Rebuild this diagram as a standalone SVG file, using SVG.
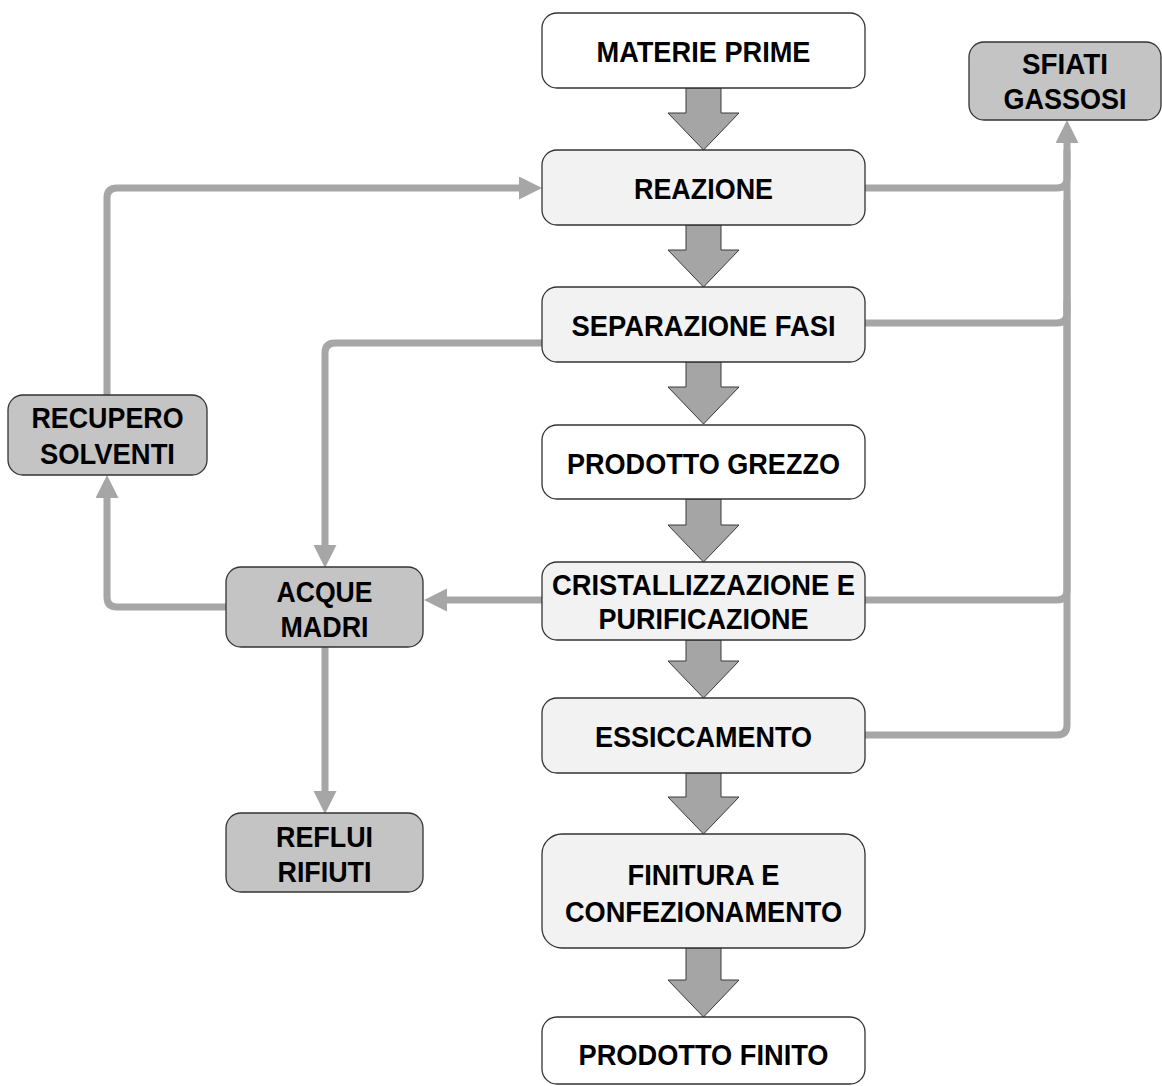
<svg xmlns="http://www.w3.org/2000/svg" width="1162" height="1086" viewBox="0 0 1162 1086">
  <style>
    .box { stroke: #333333; stroke-width: 1.3; }
    .main { fill: #ffffff; }
    .step { fill: #f2f2f2; }
    .side { fill: #c4c4c4; }
    .lbl { font-family: "Liberation Sans", Arial, sans-serif; font-weight: bold; font-size: 29px; fill: #000000; text-anchor: middle; }
    .flow { fill: #a5a5a5; stroke: #3a3a3a; stroke-width: 1; stroke-linejoin: miter; }
    .link { fill: none; stroke: #a6a6a6; stroke-width: 7; }
  </style>
  <defs>
    <marker id="head" markerUnits="userSpaceOnUse" markerWidth="24" markerHeight="24" refX="0" refY="11.5" orient="auto">
      <path d="M0,0 L23,11.5 L0,23 z" fill="#a6a6a6"/>
    </marker>
  </defs>

  <rect width="1162" height="1086" fill="#ffffff"/>

  <!-- thin connectors: recycle, waste and vent lines -->
  <g id="connectors">
    <path class="link" d="M107,395 V198 Q107,188 117,188 H519" marker-end="url(#head)"/>
    <path class="link" d="M542,343 H335 Q325,343 325,353 V545" marker-end="url(#head)"/>
    <path class="link" d="M542,600 H447" marker-end="url(#head)"/>
    <path class="link" d="M226,607 H117 Q107,607 107,597 V498" marker-end="url(#head)"/>
    <path class="link" d="M325,647 V791" marker-end="url(#head)"/>
    <path class="link" d="M865,735 H1057 Q1067,735 1067,725 V143" marker-end="url(#head)"/>
    <path class="link" d="M865,600 H1057 Q1067,600 1067,590 V300"/>
    <path class="link" d="M865,323 H1057 Q1067,323 1067,313 V200"/>
    <path class="link" d="M865,188 H1057 Q1067,188 1067,178 V150"/>
  </g>

  <!-- block arrows of the main process line -->
  <g id="flow-arrows">
    <path class="flow" d="M686,88 H721 V113 H739 L703.5,150 L668,113 H686 Z"/>
    <path class="flow" d="M686,225 H721 V250 H739 L703.5,287 L668,250 H686 Z"/>
    <path class="flow" d="M686,362 H721 V387 H739 L703.5,424 L668,387 H686 Z"/>
    <path class="flow" d="M686,499 H721 V525 H739 L703.5,562 L668,525 H686 Z"/>
    <path class="flow" d="M686,640 H721 V661 H739 L703.5,698 L668,661 H686 Z"/>
    <path class="flow" d="M686,773 H721 V797 H739 L703.5,834 L668,797 H686 Z"/>
    <path class="flow" d="M686,948 H721 V980 H739 L703.5,1017 L668,980 H686 Z"/>
  </g>

  <g id="materie-prime">
    <rect class="box main" x="542" y="13" width="323" height="75" rx="15"/>
    <text class="lbl" x="703.5" y="62" textLength="214" lengthAdjust="spacingAndGlyphs">MATERIE PRIME</text>
  </g>
  <g id="reazione">
    <rect class="box step" x="542" y="150" width="323" height="75" rx="15"/>
    <text class="lbl" x="703.5" y="199" textLength="139" lengthAdjust="spacingAndGlyphs">REAZIONE</text>
  </g>
  <g id="separazione-fasi">
    <rect class="box step" x="542" y="287" width="323" height="75" rx="15"/>
    <text class="lbl" x="703.5" y="336" textLength="264" lengthAdjust="spacingAndGlyphs">SEPARAZIONE FASI</text>
  </g>
  <g id="prodotto-grezzo">
    <rect class="box main" x="542" y="425" width="323" height="74" rx="15"/>
    <text class="lbl" x="703.5" y="474" textLength="273" lengthAdjust="spacingAndGlyphs">PRODOTTO GREZZO</text>
  </g>
  <g id="cristallizzazione">
    <rect class="box step" x="542" y="562" width="323" height="78" rx="15"/>
    <text class="lbl" x="703.5" y="595" textLength="303" lengthAdjust="spacingAndGlyphs">CRISTALLIZZAZIONE E</text>
    <text class="lbl" x="703.5" y="629" textLength="210" lengthAdjust="spacingAndGlyphs">PURIFICAZIONE</text>
  </g>
  <g id="essiccamento">
    <rect class="box step" x="542" y="698" width="323" height="75" rx="15"/>
    <text class="lbl" x="703.5" y="747" textLength="217" lengthAdjust="spacingAndGlyphs">ESSICCAMENTO</text>
  </g>
  <g id="finitura">
    <rect class="box step" x="542" y="834" width="323" height="114" rx="20"/>
    <text class="lbl" x="703.5" y="885" textLength="152" lengthAdjust="spacingAndGlyphs">FINITURA E</text>
    <text class="lbl" x="703.5" y="922" textLength="277" lengthAdjust="spacingAndGlyphs">CONFEZIONAMENTO</text>
  </g>
  <g id="prodotto-finito">
    <rect class="box main" x="542" y="1017" width="323" height="67" rx="15"/>
    <text class="lbl" x="703.5" y="1065" textLength="250" lengthAdjust="spacingAndGlyphs">PRODOTTO FINITO</text>
  </g>

  <g id="sfiati-gassosi">
    <rect class="box side" x="969" y="42" width="192" height="78" rx="15"/>
    <text class="lbl" x="1065" y="74" textLength="86" lengthAdjust="spacingAndGlyphs">SFIATI</text>
    <text class="lbl" x="1065" y="109" textLength="123" lengthAdjust="spacingAndGlyphs">GASSOSI</text>
  </g>
  <g id="recupero-solventi">
    <rect class="box side" x="8" y="395" width="199" height="80" rx="15"/>
    <text class="lbl" x="107.5" y="428" textLength="152" lengthAdjust="spacingAndGlyphs">RECUPERO</text>
    <text class="lbl" x="107.5" y="464" textLength="135" lengthAdjust="spacingAndGlyphs">SOLVENTI</text>
  </g>
  <g id="acque-madri">
    <rect class="box side" x="226" y="567" width="197" height="80" rx="15"/>
    <text class="lbl" x="324.5" y="602" textLength="96" lengthAdjust="spacingAndGlyphs">ACQUE</text>
    <text class="lbl" x="324.5" y="637" textLength="88" lengthAdjust="spacingAndGlyphs">MADRI</text>
  </g>
  <g id="reflui-rifiuti">
    <rect class="box side" x="226" y="813" width="197" height="79" rx="15"/>
    <text class="lbl" x="324.5" y="847" textLength="97" lengthAdjust="spacingAndGlyphs">REFLUI</text>
    <text class="lbl" x="324.5" y="882" textLength="94" lengthAdjust="spacingAndGlyphs">RIFIUTI</text>
  </g>
</svg>
